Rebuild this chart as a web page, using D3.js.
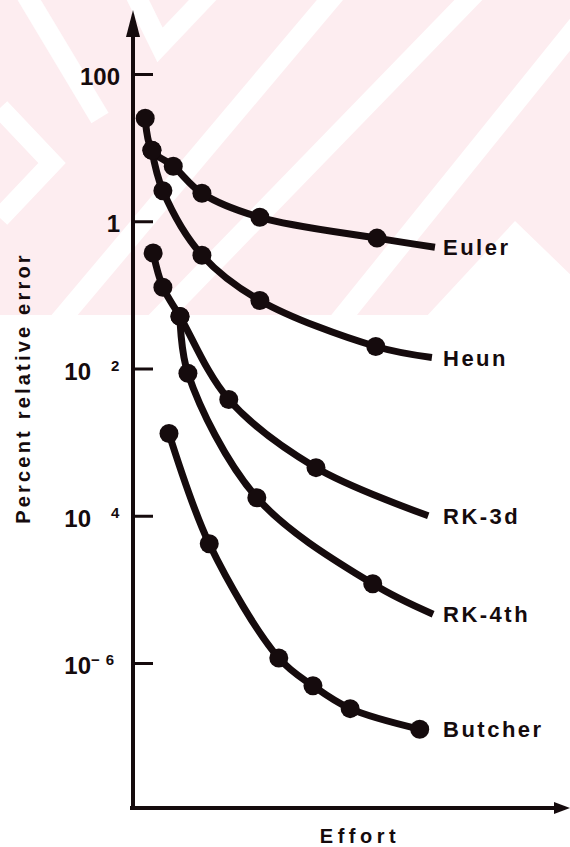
<!DOCTYPE html>
<html>
<head>
<meta charset="utf-8">
<script src="https://cdn.jsdelivr.net/npm/d3@7"></script>
<style>
  html, body { margin: 0; padding: 0; background: #fff; }
  svg { display: block; }
  text { font-family: "Liberation Sans", Arial, sans-serif; fill: #150b0d; }
</style>
</head>
<body>
<div id="chart"></div>
<script>
// values: effort (arbitrary units) vs percent relative error
const methods = ["Euler", "Heun", "RK-3d", "RK-4th", "Butcher"];
const eulerEffort = [1.0, 1.55, 3.3, 5.65, 10.4, 20.0];
const eulerError = [25, 9.2, 5.6, 2.4, 1.13, 0.59];
const heunEffort = [1.55, 2.45, 5.65, 10.4, 19.9];
const heunError = [9.2, 2.6, 0.345, 0.084, 0.0199];
const rk3Effort = [1.65, 2.45, 3.85, 7.85, 15.0];
const rk3Error = [0.37, 0.127, 0.051, 0.0038, 0.00045];
const rk4Effort = [3.85, 4.5, 10.15, 19.65];
const rk4Error = [0.051, 0.0086, 0.000176, 0.0000119];
const butcherEffort = [2.95, 6.25, 11.95, 14.75, 17.8, 23.5];
const butcherError = [0.00131, 0.0000416, 1.17e-6, 4.9e-7, 2.4e-7, 1.26e-7];
// where each curve runs out to its label (no dot drawn there)
const tailEffort = [24.75, 24.5, 24.2, 24.6, null];
const tailError = [0.443, 0.0141, 0.0001, 0.0000046, null];
// y axis ticks (the scan lost the minus signs on 2 and 4)
const tickValues = [100, 1, 1e-2, 1e-4, 1e-6];
const tickBase = ["100", "1", "10", "10", "10"];
const tickExp = ["", "", "2", "4", "\u22126"];

const ink = "#150b0d";
const width = 570, height = 847;
const xAxisY = 808; // baseline of the effort axis
const yAxisX = 133;

const efforts = [eulerEffort, heunEffort, rk3Effort, rk4Effort, butcherEffort];
const errors = [eulerError, heunError, rk3Error, rk4Error, butcherError];

const series = methods.map((name, i) => {
  const pts = efforts[i].map((e, j) => ({ effort: e, error: errors[i][j] }));
  const line = pts.slice();
  if (tailEffort[i] !== null) line.push({ effort: tailEffort[i], error: tailError[i] });
  return { name, pts, line };
});

const x = d3.scaleLinear().domain([0, 35]).range([yAxisX, 560]);
const y = d3.scaleLog().domain([1e-6, 100]).range([663, 74]);

const svg = d3.select("#chart").append("svg")
  .attr("width", width)
  .attr("height", height);

// faint pink watermark band at the top of the scan
const defs = svg.append("defs");
defs.append("clipPath").attr("id", "wm")
  .append("rect").attr("x", 0).attr("y", 0).attr("width", width).attr("height", 315);

const wm = svg.append("g").attr("clip-path", "url(#wm)");
wm.append("rect").attr("width", width).attr("height", 315).attr("fill", "#fdedf0");
const stripes = [
  [[0, 108], [52, 163], [0, 218]],
  [[22, -12], [100, 118]],
  [[132, -12], [160, 45], [214, -12]],
  [[52, 330], [340, -12]],
  [[148, 330], [480, -12]],
  [[332, 330], [590, 10]],
];
wm.selectAll("path.stripe")
  .data(stripes)
  .join("path")
  .attr("class", "stripe")
  .attr("d", d3.line())
  .attr("fill", "none")
  .attr("stroke", "#fff")
  .attr("stroke-width", 20);
wm.append("path")
  .attr("d", "M425,318 L515,221 L575,279 L575,318 Z")
  .attr("fill", "#fff");

// axes
svg.append("line")
  .attr("x1", yAxisX).attr("x2", yAxisX)
  .attr("y1", xAxisY + 2).attr("y2", 30)
  .attr("stroke", ink).attr("stroke-width", 4);
svg.append("path")
  .attr("d", `M${yAxisX},10 L${yAxisX - 7},37 L${yAxisX + 7},37 Z`)
  .attr("fill", ink);
svg.append("line")
  .attr("x1", yAxisX - 3).attr("x2", 558)
  .attr("y1", xAxisY).attr("y2", xAxisY)
  .attr("stroke", ink).attr("stroke-width", 4);
svg.append("path")
  .attr("d", `M570,${xAxisY} L554,${xAxisY - 6} L554,${xAxisY + 6} Z`)
  .attr("fill", ink);

const yAxis = svg.append("g")
  .attr("transform", `translate(${yAxisX},0)`)
  .call(d3.axisLeft(y).tickValues(tickValues).tickSizeInner(-20).tickSizeOuter(0).tickFormat(""));
yAxis.select(".domain").remove();
yAxis.selectAll(".tick line").attr("stroke", ink).attr("stroke-width", 3);

// tick labels, drawn by hand to get the raised exponents
const tickLabels = svg.append("g").selectAll("g")
  .data(tickValues)
  .join("g");
tickLabels.append("text")
  .attr("x", (d, i) => tickExp[i] ? 91 : 120)
  .attr("y", d => y(d) + 11)
  .attr("text-anchor", "end")
  .attr("font-size", 24)
  .attr("font-weight", "bold")
  .text((d, i) => tickBase[i]);
tickLabels.append("text")
  .attr("x", (d, i) => tickExp[i].startsWith("\u2212") ? 91 : 111)
  .attr("y", d => y(d) + 2)
  .attr("font-size", 15)
  .attr("font-weight", "bold")
  .attr("letter-spacing", 6)
  .text((d, i) => tickExp[i]);

// axis titles
svg.append("text")
  .attr("transform", "translate(30,388) rotate(-90)")
  .attr("text-anchor", "middle")
  .attr("font-size", 20)
  .attr("font-weight", "bold")
  .attr("letter-spacing", 3.2)
  .text("Percent relative error");
svg.append("text")
  .attr("x", 360)
  .attr("y", 843)
  .attr("text-anchor", "middle")
  .attr("font-size", 20)
  .attr("font-weight", "bold")
  .attr("letter-spacing", 4.5)
  .text("Effort");

// curves
const line = d3.line()
  .x(d => x(d.effort))
  .y(d => y(d.error))
  .curve(d3.curveCatmullRom.alpha(0.5));

const groups = svg.append("g").selectAll("g")
  .data(series)
  .join("g");

groups.append("path")
  .attr("d", d => line(d.line))
  .attr("fill", "none")
  .attr("stroke", ink)
  .attr("stroke-width", 7)
  .attr("stroke-linecap", "butt");

groups.selectAll("circle")
  .data(d => d.pts)
  .join("circle")
  .attr("cx", d => x(d.effort))
  .attr("cy", d => y(d.error))
  .attr("r", 9.5)
  .attr("fill", ink);

groups.append("text")
  .attr("x", 443)
  .attr("y", d => {
    const end = d.line[d.line.length - 1];
    return y(end.error) + 8;
  })
  .attr("font-size", 22)
  .attr("font-weight", "bold")
  .attr("letter-spacing", 2.5)
  .text(d => d.name);
</script>
</body>
</html>
